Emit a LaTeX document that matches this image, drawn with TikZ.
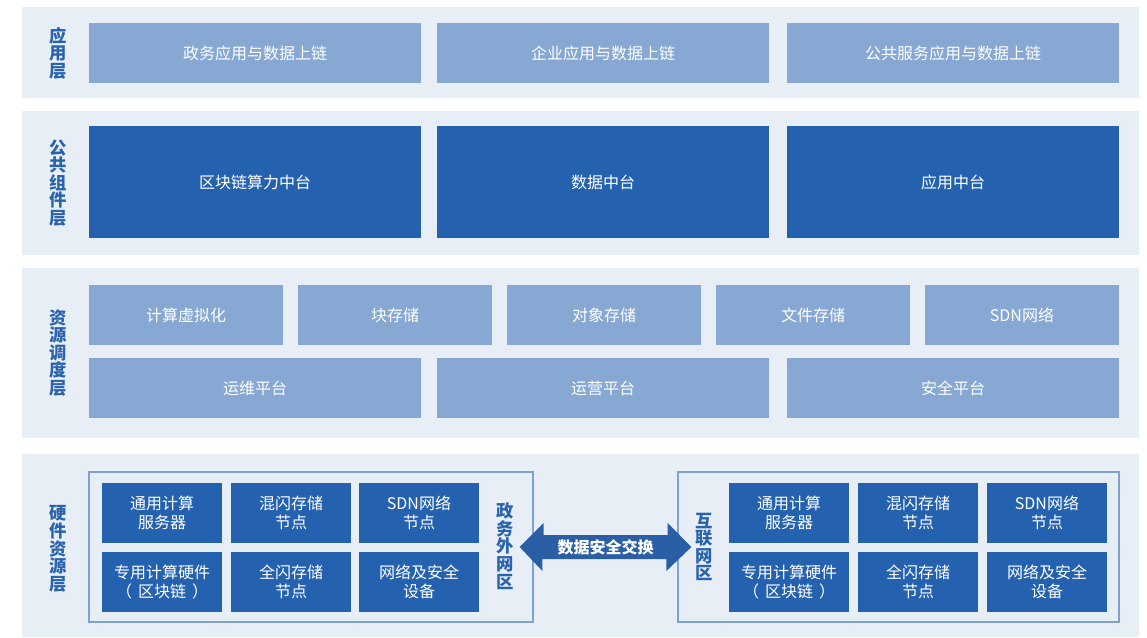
\documentclass[tikz,border=0pt]{standalone}
\usepackage{fontspec}
\usetikzlibrary{calc}
\setmainfont{Noto Sans CJK SC}
\definecolor{lightbg}{HTML}{E8EEF6}
\definecolor{lightbox}{HTML}{86A8D3}
\definecolor{darkbox}{HTML}{2462B0}
\definecolor{labelblue}{HTML}{2A63AD}
\definecolor{framecol}{HTML}{7DA2D4}
\definecolor{arrowcol}{HTML}{2A5EA5}
\newcommand{\pgap}{\hspace{4.5pt}}
\begin{document}
\begin{tikzpicture}[x=0.75pt,y=-0.75pt,
  wh/.style 2 args={minimum width=#1*0.75pt,minimum height=#2*0.75pt},
  layer/.style={fill=lightbg,inner sep=0pt},
  lbox/.style={fill=lightbox,text=white,inner sep=0pt,font=\fontsize{12}{14.4}\selectfont},
  dbox/.style={fill=darkbox,text=white,inner sep=0pt,font=\fontsize{12}{14.4}\selectfont},
  hbox/.style={fill=darkbox,text=white,inner sep=0pt,align=center,font=\fontsize{12}{14.25}\selectfont},
  vlabel/.style={text=labelblue,align=center,inner sep=0pt,font=\bfseries\fontsize{13}{13.2}\selectfont},
  zone/.style={draw=framecol,line width=0.9pt,inner sep=0pt},
]
\useasboundingbox (0,0) rectangle (1147,638);
\fill[white] (0,0) rectangle (1147,638);

% layer backgrounds
\node[layer,wh={1117}{91}]  (L1) at (580.5,52.5) {};
\node[layer,wh={1117}{144}] (L2) at (580.5,183) {};
\node[layer,wh={1117}{170}] (L3) at (580.5,353) {};
\node[layer,wh={1117}{183}] (L4) at (580.5,545.5) {};

% layer labels
\node[vlabel] (t1) at (58,53)  {应\\用\\层};
\node[vlabel] (t2) at (58,183) {公\\共\\组\\件\\层};
\node[vlabel] (t3) at (58,353) {资\\源\\调\\度\\层};
\node[vlabel] (t4) at (58,549) {硬\\件\\资\\源\\层};

% application layer
\node[lbox,wh={332}{60}] (a1) at (255,53) {政务应用与数据上链};
\node[lbox,wh={332}{60}] (a2) at (603,53) {企业应用与数据上链};
\node[lbox,wh={332}{60}] (a3) at (953,53) {公共服务应用与数据上链};

% public component layer
\node[dbox,wh={332}{112}] (c1) at (255,182) {区块链算力中台};
\node[dbox,wh={332}{112}] (c2) at (603,182) {数据中台};
\node[dbox,wh={332}{112}] (c3) at (953,182) {应用中台};

% resource scheduling layer
\node[lbox,wh={194}{60}] (r1) at (186,315)  {计算虚拟化};
\node[lbox,wh={194}{60}] (r2) at (395,315)  {块存储};
\node[lbox,wh={194}{60}] (r3) at (604,315)  {对象存储};
\node[lbox,wh={194}{60}] (r4) at (813,315)  {文件存储};
\node[lbox,wh={194}{60}] (r5) at (1022,315) {SDN网络};
\node[lbox,wh={332}{60}] (s1) at (255,388) {运维平台};
\node[lbox,wh={332}{60}] (s2) at (603,388) {运营平台};
\node[lbox,wh={332}{60}] (s3) at (953,388) {安全平台};

% hardware layer zones
\node[zone,wh={444}{150}] (zl) at (311,547) {};
\node[zone,wh={441}{150}] (zr) at (898.5,547) {};

% left zone boxes
\node[hbox,wh={120}{60}] (h11) at (162,513) {通用计算\\服务器};
\node[hbox,wh={120}{60}] (h12) at (291,513) {混闪存储\\节点};
\node[hbox,wh={120}{60}] (h13) at (419,513) {SDN网络\\节点};
\node[hbox,wh={120}{60}] (h14) at (162,582) {专用计算硬件\\（\pgap 区块链\pgap ）};
\node[hbox,wh={120}{60}] (h15) at (291,582) {全闪存储\\节点};
\node[hbox,wh={120}{60}] (h16) at (419,582) {网络及安全\\设备};

% right zone boxes
\node[hbox,wh={120}{60}] (h21) at (789,513)  {通用计算\\服务器};
\node[hbox,wh={120}{60}] (h22) at (918,513)  {混闪存储\\节点};
\node[hbox,wh={120}{60}] (h23) at (1047,513) {SDN网络\\节点};
\node[hbox,wh={120}{60}] (h24) at (789,582)  {专用计算硬件\\（\pgap 区块链\pgap ）};
\node[hbox,wh={120}{60}] (h25) at (918,582)  {全闪存储\\节点};
\node[hbox,wh={120}{60}] (h26) at (1047,582) {网络及安全\\设备};

% zone labels
\node[vlabel] (zlt) at (505,546) {政\\务\\外\\网\\区};
\node[vlabel] (zrt) at (704,547) {互\\联\\网\\区};

% exchange arrow
\coordinate (al) at ([xshift=-14*0.75pt]zl.east);
\coordinate (ar) at ([xshift=14*0.75pt]zr.west);
\fill[arrowcol] (al) -- ++(24,-24) -- ++(0,12) -- ++(124,0) -- ++(0,-12) -- (ar)
  -- ++(-25,24) -- ++(0,-12) -- ++(-124,0) -- ++(0,12) -- cycle;
\node[text=white,inner sep=0pt,font=\bfseries\fontsize{12}{14}\selectfont] (ax) at ($(al)!0.5!(ar)$) {数据安全交换};
\end{tikzpicture}
\end{document}
